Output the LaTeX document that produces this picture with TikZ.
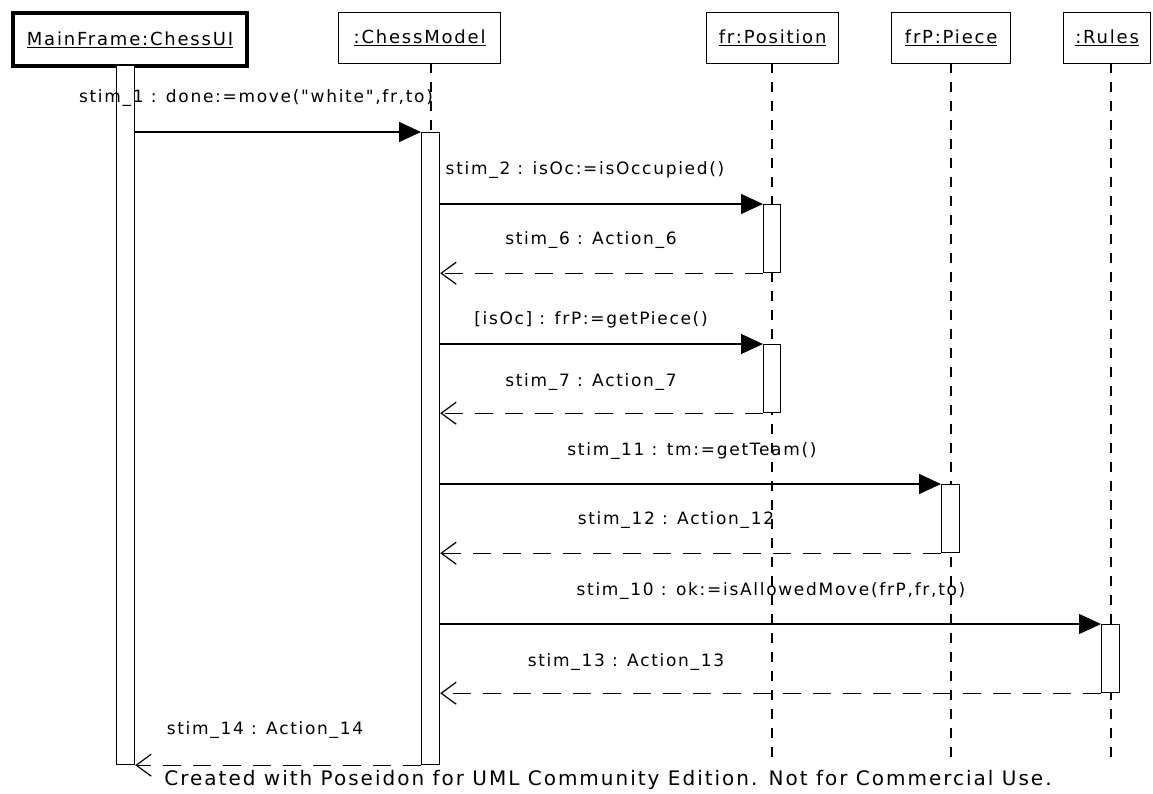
\documentclass[tikz,border=0pt]{standalone}
\usepackage{fontspec}
\setmainfont{DejaVu Sans}
\newfontfamily\uifont[LetterSpace=10]{DejaVu Sans}
\usetikzlibrary{arrows.meta}
\begin{document}
\begin{tikzpicture}[x=1pt,y=-1pt,
  objbox/.style={draw,line width=1.3pt,anchor=north west,inner sep=0pt,font=\uifont\fontsize{18}{21}\selectfont},
  actbar/.style={draw,fill=white,line width=1.2pt,anchor=north west,inner sep=0pt,minimum width=18pt},
  life/.style={line width=1.2pt,dash pattern=on 10pt off 9pt},
  call/.style={line width=1.2pt,-{Triangle[length=22pt,width=20pt]}},
  ret/.style={line width=1.2pt,dash pattern=on 18pt off 12pt,-{Straight Barb[length=15pt,width=22pt,line width=1.2pt]}},
  msg/.style={font=\uifont\fontsize{17}{20}\selectfont,inner sep=0pt}]
\useasboundingbox (0,0) rectangle (1153,794);
\fill[white] (0,0) rectangle (1153,794);

% objects
\node[objbox,line width=4pt,minimum width=234pt,minimum height=53pt] (ui) at (11,11) {\underline{MainFrame:ChessUI}};
\node[objbox,minimum width=162pt,minimum height=51pt] (cm) at (338,12) {\underline{:ChessModel}};
\node[objbox,minimum width=132pt,minimum height=51pt] (pos) at (706,12) {\underline{fr:Position}};
\node[objbox,minimum width=119pt,minimum height=51pt] (pc) at (891,12) {\underline{frP:Piece}};
\node[objbox,minimum width=87pt,minimum height=51pt] (ru) at (1063,12) {\underline{:Rules}};

% lifeline ends
\coordinate (cmEnd) at (431,764);
\coordinate (posEnd) at (772,762);
\coordinate (pcEnd) at (951,762);
\coordinate (ruEnd) at (1111,762);

\draw[life] (431,63) -- (cmEnd);
\draw[life] (772,63) -- (posEnd);
\draw[life] (951,63) -- (pcEnd);
\draw[life] (1111,63) -- (ruEnd);

% activation bars
\node[actbar,minimum height=699pt] (uiA) at (116,65) {};
\node[actbar,minimum height=632pt] (cmA) at (421,132) {};
\node[actbar,minimum width=17pt,minimum height=68pt] (posA) at (763,204) {};
\node[actbar,minimum width=17pt,minimum height=68pt] (posB) at (763,344) {};
\node[actbar,minimum height=68pt] (pcA) at (941,484) {};
\node[actbar,minimum height=68pt] (ruA) at (1101,624) {};

% messages
\draw[call] (uiA.east |- cmA.north) -- (cmA.north west);
\draw[call] (cmA.east |- posA.north) -- (posA.north west);
\draw[ret] (posA.south west) -- (cmA.east |- posA.south);
\draw[call] (cmA.east |- posB.north) -- (posB.north west);
\draw[ret] (posB.south west) -- (cmA.east |- posB.south);
\draw[call] (cmA.east |- pcA.north) -- (pcA.north west);
\draw[ret] (pcA.south west) -- (cmA.east |- pcA.south);
\draw[call] (cmA.east |- ruA.north) -- (ruA.north west);
\draw[ret] (ruA.south west) -- (cmA.east |- ruA.south);
\draw[ret] (cmA.south west) -- (uiA.south east);

% message labels
\node[msg] (l1) at (256,98) {stim\_1 : done:=move("white",fr,to)};
\node[msg] (l2) at (585,170) {stim\_2 : isOc:=isOccupied()};
\node[msg] (l6) at (591,240) {stim\_6 : Action\_6};
\node[msg] (l3) at (591,320) {[isOc] : frP:=getPiece()};
\node[msg] (l7) at (591,382) {stim\_7 : Action\_7};
\node[msg] (l11) at (692,451) {stim\_11 : tm:=getTeam()};
\node[msg] (l12) at (676,520) {stim\_12 : Action\_12};
\node[msg] (l10) at (771,591) {stim\_10 : ok:=isAllowedMove(frP,fr,to)};
\node[msg] (l13) at (626,662) {stim\_13 : Action\_13};
\node[msg] (l14) at (265,730) {stim\_14 : Action\_14};
\node[msg,font=\uifont\fontsize{20}{24}\selectfont] (foot) at (608,780) {Created with Poseidon for UML Community Edition. Not for Commercial Use.};
\end{tikzpicture}
\end{document}
